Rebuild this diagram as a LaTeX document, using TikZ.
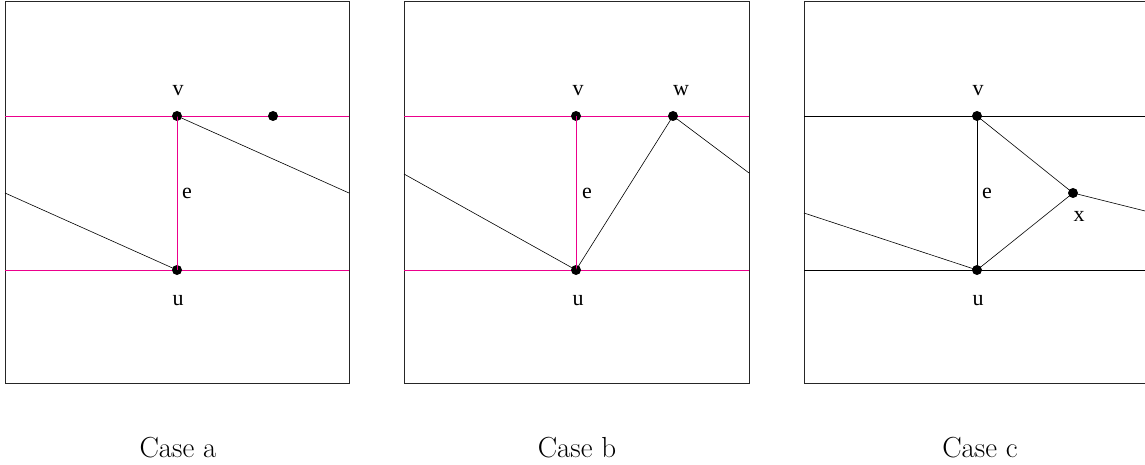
\documentclass[tikz,border=0pt]{standalone}
\usepackage{fontspec}
\newfontfamily\lblfont{Liberation Serif}
\begin{document}
\begin{tikzpicture}[x=1pt,y=-1pt,
  boxframe/.style={draw=black!85,line width=0.9pt},
  segline/.style={draw=black,line width=0.6pt},
  magline/.style={draw=magenta,line width=0.9pt},
  vdot/.style={circle,fill=black,inner sep=0pt,minimum size=10pt},
  lbl/.style={font=\lblfont\fontsize{22}{22}\selectfont,inner sep=0pt},
  casecap/.style={font=\fontsize{29}{29}\selectfont,inner sep=0pt}]
\useasboundingbox (0,0) rectangle (1145,465);
\clip (0,0) rectangle (1145,465);
% ---------- Case a ----------
\draw[boxframe] (5,1) rectangle (349,383);
\coordinate (aL1) at (5,116); \coordinate (aR1) at (349,116);
\coordinate (aL2) at (5,270); \coordinate (aR2) at (349,270);
\coordinate (aLs) at (5,193); \coordinate (aRs) at (349,193);
\draw[magline] (aL1) -- (aR1);
\draw[magline] (aL2) -- (aR2);
\node[vdot] (av) at (177,116) {};
\node[vdot] (aw) at (273,116) {};
\node[vdot] (au) at (177,270) {};
\draw[magline] (av.center) -- (au.center);
\draw[segline] (aLs) -- (au.center);
\draw[segline] (av.center) -- (aRs);
\node[lbl] (avl) at (178,91) {v};
\node[lbl] (aul) at (178,301) {u};
\node[lbl] (ael) at (187,193) {e};
\node[casecap] (capa) at (178,448) {Case a};
% ---------- Case b ----------
\draw[boxframe] (404,1) rectangle (749,383);
\coordinate (bL1) at (404,116); \coordinate (bR1) at (749,116);
\coordinate (bL2) at (404,270); \coordinate (bR2) at (749,270);
\coordinate (bLs) at (404,174); \coordinate (bRs) at (749,173);
\draw[magline] (bL1) -- (bR1);
\draw[magline] (bL2) -- (bR2);
\node[vdot] (bv) at (576,116) {};
\node[vdot] (bw) at (673,116) {};
\node[vdot] (bu) at (576,270) {};
\draw[magline] (bv.center) -- (bu.center);
\draw[segline] (bLs) -- (bu.center) -- (bw.center) -- (bRs);
\node[lbl] (bvl) at (578,91) {v};
\node[lbl] (bwl) at (681,91) {w};
\node[lbl] (bul) at (578,301) {u};
\node[lbl] (bel) at (587,193) {e};
\node[casecap] (capb) at (577,448) {Case b};
% ---------- Case c ----------
\draw[boxframe] (804,1) -- (1150,1);
\draw[boxframe] (804,383) -- (1150,383);
\draw[boxframe] (804,1) -- (804,383);
\coordinate (cL1) at (804,116); \coordinate (cR1) at (1145,116);
\coordinate (cL2) at (804,270); \coordinate (cR2) at (1145,270);
\coordinate (cLs) at (804,213); \coordinate (cRs) at (1145,211);
\draw[segline] (cL1) -- (cR1);
\draw[segline] (cL2) -- (cR2);
\node[vdot] (cv) at (977,116) {};
\node[vdot] (cu) at (977,270) {};
\node[vdot] (cx) at (1073,193) {};
\draw[segline] (cv.center) -- (cu.center);
\draw[segline] (cv.center) -- (cx.center) -- (cu.center);
\draw[segline] (cx.center) -- (cRs);
\draw[segline] (cLs) -- (cu.center);
\node[lbl] (cvl) at (978,91) {v};
\node[lbl] (cul) at (978,301) {u};
\node[lbl] (cel) at (987,193) {e};
\node[lbl] (cxl) at (1079,216) {x};
\node[casecap] (capc) at (980,448) {Case c};
\end{tikzpicture}
\end{document}
